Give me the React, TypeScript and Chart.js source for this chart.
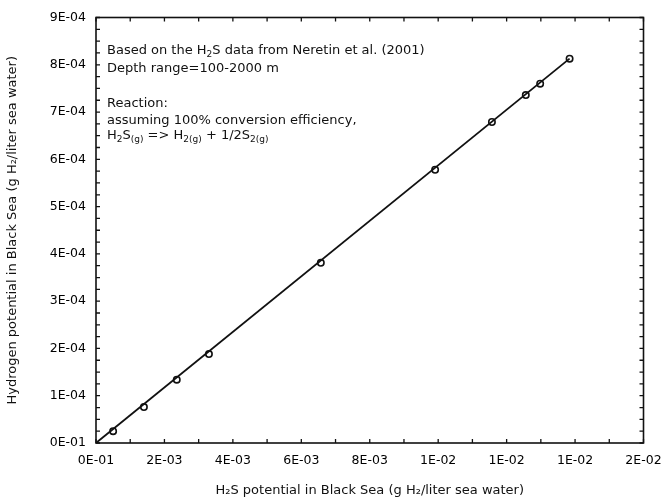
import { useEffect, useRef } from "react";
import { Chart, registerables } from "chart.js";

Chart.register(...registerables);

// H2S potential (g H2 / liter sea water)
const h2sPotential = [0.0005, 0.0014, 0.00236, 0.0033, 0.00657, 0.00991, 0.01157, 0.01256, 0.01298, 0.01384];
// Hydrogen potential (g H2 / liter sea water)
const hydrogenPotential = [2.5e-5, 7.6e-5, 1.34e-4, 1.88e-4, 3.81e-4, 5.78e-4, 6.79e-4, 7.36e-4, 7.6e-4, 8.13e-4];

// fitted line end points
const fitLineX = [0, 0.01384];
const fitLineY = [0, 8.13e-4];

const xTickValues = [0, 0.002, 0.004, 0.006, 0.008, 0.01, 0.012, 0.014, 0.016];
const xTickLabels = ["0E-01", "2E-03", "4E-03", "6E-03", "8E-03", "1E-02", "1E-02", "1E-02", "2E-02"];
const xMinorTicks = [0.001, 0.003, 0.005, 0.007, 0.009, 0.011, 0.013, 0.015];

const yTickValues = [0, 1e-4, 2e-4, 3e-4, 4e-4, 5e-4, 6e-4, 7e-4, 8e-4, 9e-4];
const yTickLabels = ["0E-01", "1E-04", "2E-04", "3E-04", "4E-04", "5E-04", "6E-04", "7E-04", "8E-04", "9E-04"];
const yMinorStep = 2.5e-5;

const xTitle = "H\u2082S potential in Black Sea (g H\u2082/liter sea water)";
const yTitle = "Hydrogen potential in Black Sea (g H\u2082/liter sea water)";

type Seg = { t: string; sub?: boolean };
const noteLines: { segs: Seg[]; gapBefore: number }[] = [
  { segs: [{ t: "Based on the H" }, { t: "2", sub: true }, { t: "S data from Neretin et al. (2001)" }], gapBefore: 0 },
  { segs: [{ t: "Depth range=100-2000 m" }], gapBefore: 18 },
  { segs: [{ t: "Reaction:" }], gapBefore: 35 },
  { segs: [{ t: "assuming 100% conversion efficiency," }], gapBefore: 17 },
  {
    segs: [
      { t: "H" }, { t: "2", sub: true }, { t: "S" }, { t: "(g)", sub: true },
      { t: " => H" }, { t: "2(g)", sub: true }, { t: " + 1/2S" }, { t: "2(g)", sub: true },
    ],
    gapBefore: 15,
  },
];

const FONT = "'DejaVu Sans', Verdana, sans-serif";

const framePlugin = {
  id: "frame",
  afterDatasetsDraw(chart: any) {
    const { ctx, chartArea } = chart;
    const { left, right, top, bottom } = chartArea;
    const xs = chart.scales.x;
    const ys = chart.scales.y;
    ctx.save();
    ctx.strokeStyle = "#111";
    ctx.lineWidth = 1.6;
    ctx.strokeRect(left, top, right - left, bottom - top);

    ctx.lineWidth = 1.3;
    ctx.beginPath();
    const xAll = [...xTickValues, ...xMinorTicks];
    for (const v of xAll) {
      const px = xs.getPixelForValue(v);
      ctx.moveTo(px, bottom);
      ctx.lineTo(px, bottom - 4);
      ctx.moveTo(px, top);
      ctx.lineTo(px, top + 4);
    }
    const yAll: number[] = [];
    for (let i = 0; i < yTickValues.length; i++) {
      yAll.push(yTickValues[i]);
      if (i < yTickValues.length - 1) {
        for (let k = 1; k < 4; k++) yAll.push(yTickValues[i] + k * yMinorStep);
      }
    }
    for (const v of yAll) {
      const py = ys.getPixelForValue(v);
      ctx.moveTo(left, py);
      ctx.lineTo(left + 4, py);
      ctx.moveTo(right, py);
      ctx.lineTo(right - 4, py);
    }
    ctx.stroke();

    // annotation text
    ctx.fillStyle = "#111";
    ctx.textBaseline = "alphabetic";
    ctx.textAlign = "left";
    let baseY = top + 36;
    for (const line of noteLines) {
      baseY += line.gapBefore;
      let x = left + 11;
      for (const s of line.segs) {
        if (s.sub) {
          ctx.font = `9px ${FONT}`;
          ctx.fillText(s.t, x, baseY + 3);
        } else {
          ctx.font = `13px ${FONT}`;
          ctx.fillText(s.t, x, baseY);
        }
        x += ctx.measureText(s.t).width;
      }
    }
    ctx.restore();
  },
};

export default function App() {
  const ref = useRef<HTMLCanvasElement | null>(null);

  useEffect(() => {
    document.body.style.margin = "0";
    const canvas = ref.current;
    if (!canvas) return;
    const chart = new Chart(canvas, {
      type: "scatter",
      data: {
        datasets: [
          {
            type: "line",
            label: "fit",
            data: fitLineX.map((x, i) => ({ x, y: fitLineY[i] })),
            borderColor: "#111",
            borderWidth: 1.8,
            pointRadius: 0,
            fill: false,
          },
          {
            label: "data",
            data: h2sPotential.map((x, i) => ({ x, y: hydrogenPotential[i] })),
            borderColor: "#111",
            backgroundColor: "rgba(255,255,255,0)",
            borderWidth: 1.6,
            pointRadius: 3.2,
          },
        ],
      },
      options: {
        animation: false,
        responsive: false,
        maintainAspectRatio: false,
        layout: { padding: { top: 16, right: 0, left: 0, bottom: 0 } },
        plugins: { legend: { display: false }, tooltip: { enabled: false } },
        scales: {
          x: {
            type: "linear",
            min: 0,
            max: 0.016,
            grid: { display: false, drawTicks: false },
            border: { display: false },
            afterBuildTicks: (s: any) => {
              s.ticks = xTickValues.map((v) => ({ value: v }));
            },
            afterFit: (s: any) => {
              s.height = 57;
              s.paddingRight = 18.5;
              s.paddingLeft = 0;
            },
            ticks: {
              padding: 10,
              color: "#000",
              font: { family: FONT, size: 12.5 },
              maxRotation: 0,
              autoSkip: false,
              callback: (_v: any, i: number) => xTickLabels[i],
            },
            title: {
              display: true,
              text: xTitle,
              color: "#111",
              font: { family: FONT, size: 13 },
              padding: { top: 0, bottom: 2 },
            },
          },
          y: {
            type: "linear",
            min: 0,
            max: 9e-4,
            grid: { display: false, drawTicks: false },
            border: { display: false },
            afterBuildTicks: (s: any) => {
              s.ticks = yTickValues.map((v) => ({ value: v }));
            },
            afterFit: (s: any) => {
              s.width = 96;
            },
            ticks: {
              padding: 10,
              color: "#000",
              font: { family: FONT, size: 12.5 },
              autoSkip: false,
              callback: (_v: any, i: number) => yTickLabels[i],
            },
            title: {
              display: true,
              text: yTitle,
              color: "#111",
              font: { family: FONT, size: 13 },
              padding: { top: 5, bottom: 0 },
            },
          },
        },
      },
      plugins: [framePlugin],
    });
    return () => chart.destroy();
  }, []);

  return (
    <div style={{ width: 662, height: 500, background: "#fff" }}>
      <canvas ref={ref} width={662} height={500} style={{ display: "block" }} />
    </div>
  );
}
